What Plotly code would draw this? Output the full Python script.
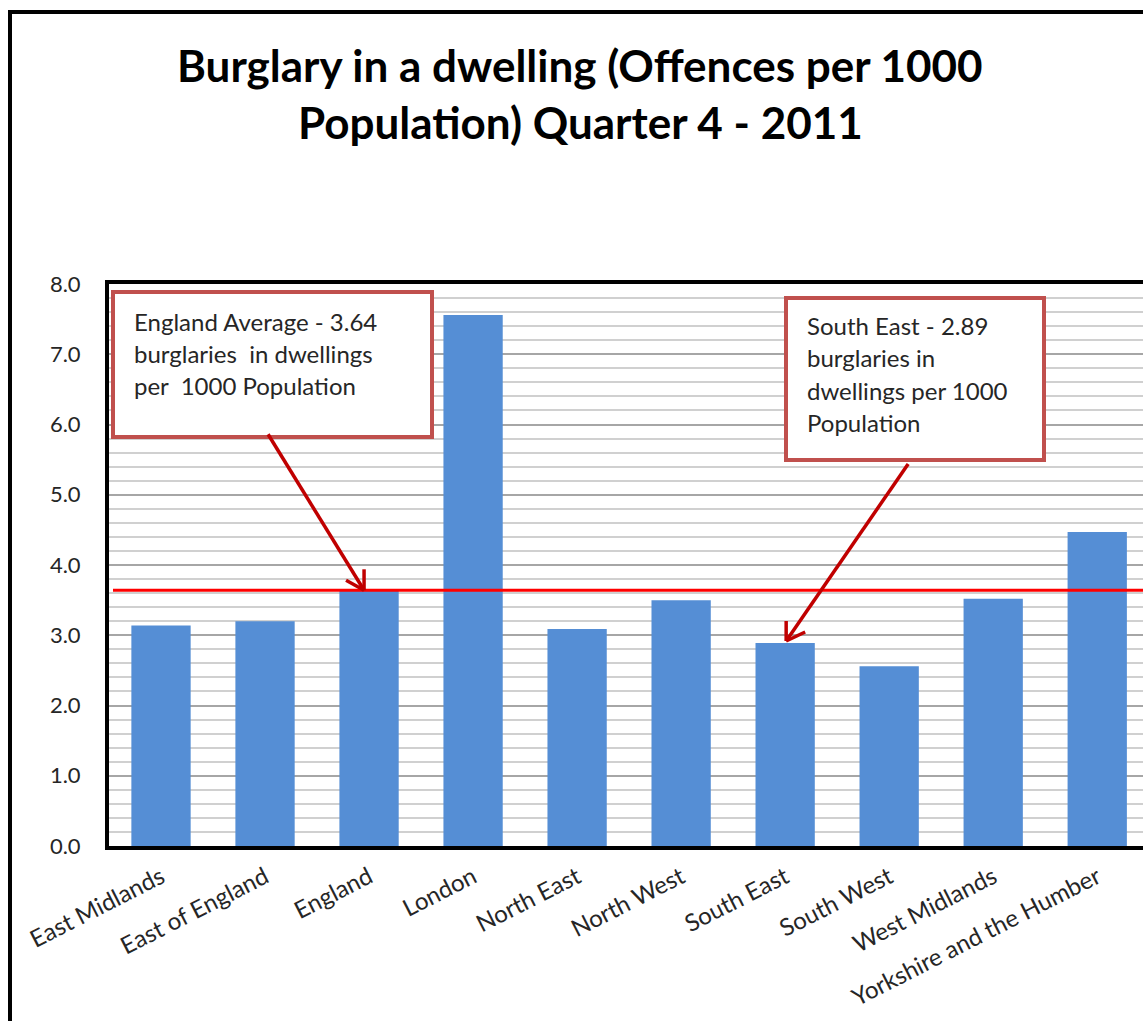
import plotly.graph_objects as go

# Regional burglary rates, Q4 2011 (offences per 1000 population)
regions = ["East Midlands", "East of England", "England", "London", "North East",
           "North West", "South East", "South West", "West Midlands",
           "Yorkshire and the Humber"]
rates = [3.14, 3.20, 3.64, 7.56, 3.09, 3.50, 2.89, 2.56, 3.52, 4.47]
england_average = 3.64
south_east_rate = rates[regions.index("South East")]
y_ticks = [0, 1, 2, 3, 4, 5, 6, 7, 8]

W, H = 1143, 1021
L, R, T, B = 109, 1143, 284, 846  # plot area in pixels


def px(x):
    return (x - L) / (R - L)


def py(y):
    return (B - y) / (B - T)


FONT = "Lato"
BOX_RED = "#c0504d"
ARROW_RED = "#c00000"
TEXT = "#262626"

fig = go.Figure()
fig.add_trace(go.Bar(
    x=regions, y=rates,
    marker=dict(color="#558ed5", line=dict(width=0)),
    hoverinfo="x+y",
))

shapes = []

# outer chart frame
shapes.append(dict(type="rect", xref="paper", yref="paper",
                   x0=px(10), x1=px(1170), y0=py(12), y1=py(1050),
                   line=dict(color="black", width=4), fillcolor="rgba(0,0,0,0)",
                   layer="above"))

# England average reference line
shapes.append(dict(type="line", xref="paper", yref="y",
                   x0=px(113), x1=1.0, y0=england_average, y1=england_average,
                   line=dict(color="#ff0000", width=3), layer="above"))

# callout boxes
shapes.append(dict(type="rect", xref="paper", yref="paper",
                   x0=px(113), x1=px(432), y0=py(292), y1=py(437),
                   line=dict(color=BOX_RED, width=4), fillcolor="white",
                   layer="above"))
shapes.append(dict(type="rect", xref="paper", yref="paper",
                   x0=px(786), x1=px(1044), y0=py(298), y1=py(460),
                   line=dict(color=BOX_RED, width=4), fillcolor="white",
                   layer="above"))


def arrow(cat, val, tip, start, arm1, arm2):
    """Callout arrow with an open chevron head, offsets in pixels from a data point."""
    segs = [(start, tip), (arm1, tip), (arm2, tip)]
    out = []
    for (x0, y0), (x1, y1) in segs:
        out.append(dict(type="line", xref="x", yref="y",
                        xsizemode="pixel", ysizemode="pixel",
                        xanchor=cat, yanchor=val,
                        x0=x0, y0=y0, x1=x1, y1=y1,
                        line=dict(color=ARROW_RED, width=3.5), layer="above"))
    return out


shapes += arrow("England", england_average,
                tip=(-5, 0), start=(-101, 156), arm1=(-23, 10), arm2=(-5, 21))
shapes += arrow("South East", south_east_rate,
                tip=(1, 2), start=(123, 179), arm1=(1, 22), arm2=(20, 11))

annotations = []

# title
for text, yc in [("Burglary in a dwelling (Offences per 1000", 65),
                 ("Population) Quarter 4 - 2011", 122)]:
    annotations.append(dict(text=text, xref="paper", yref="paper",
                            x=px(580), y=py(yc), xanchor="center", yanchor="middle",
                            showarrow=False,
                            font=dict(family=FONT, size=44, color="black", weight="bold")))

# callout texts
box1 = ["England Average - 3.64", "burglaries\u00a0 in dwellings", "per\u00a0 1000 Population"]
for i, line in enumerate(box1):
    annotations.append(dict(text=line, xref="paper", yref="paper",
                            x=px(132), y=py(321 + 32 * i), xanchor="left", yanchor="middle",
                            showarrow=False, font=dict(family=FONT, size=24, color=TEXT)))

box2 = ["South East - 2.89", "burglaries in", "dwellings per 1000", "Population"]
for i, line in enumerate(box2):
    annotations.append(dict(text=line, xref="paper", yref="paper",
                            x=px(805), y=py(325 + 32.5 * i), xanchor="left", yanchor="middle",
                            showarrow=False, font=dict(family=FONT, size=24, color=TEXT)))

fig.update_layout(
    width=W, height=H,
    margin=dict(l=L, r=W - R, t=T, b=H - B, pad=0),
    paper_bgcolor="white", plot_bgcolor="white",
    showlegend=False,
    bargap=0.43,
    shapes=shapes,
    annotations=annotations,
    font=dict(family=FONT, color=TEXT),
)

fig.update_xaxes(
    range=[-0.5, 9.44],
    showline=True, linecolor="black", linewidth=4, mirror=True,
    showgrid=False, ticks="",
    tickangle=-27,
    tickfont=dict(family=FONT, size=24, color=TEXT),
    ticklabelstandoff=4,
)

fig.update_yaxes(
    range=[0, 8],
    tickvals=y_ticks,
    ticktext=[f"{v:.1f}" for v in y_ticks],
    showline=True, linecolor="black", linewidth=4,
    showgrid=True, gridcolor="#a6a6a6", gridwidth=1.5,
    minor=dict(dtick=0.2, showgrid=True, gridcolor="#d0d0d0", gridwidth=1.5),
    ticks="", zeroline=False,
    tickfont=dict(family=FONT, size=22, color=TEXT),
    ticklabelstandoff=20,
)

fig.write_html("out.html")
